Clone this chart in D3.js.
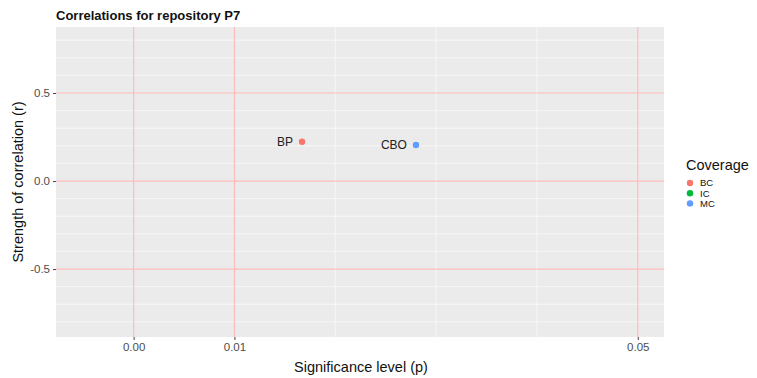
<!DOCTYPE html>
<meta charset="utf-8">
<style>
body { margin: 0; background: #fff; font-family: "Liberation Sans", Arial, sans-serif; }
.tick text { fill: #4d4d4d; font-size: 11.5px; }
.tick line { stroke: #444; }
.domain { display: none; }
</style>
<body>
<script src="https://cdn.jsdelivr.net/npm/d3@7"></script>
<script>
// data
var labels = ["BP", "CBO"];
var coverage = ["BC", "MC"];
var pValues = [0.0167, 0.028];
var rValues = [0.223, 0.2045];

var groups = ["BC", "IC", "MC"];
var groupColors = ["#F8766D", "#00BA38", "#619CFF"];

var xTicks = [0, 0.01, 0.05];
var xMinor = [0.02, 0.03, 0.04];
var yTicks = [-0.5, 0, 0.5];
var yMinor = [-0.8, -0.7, -0.6, -0.4, -0.3, -0.2, -0.1, 0.1, 0.2, 0.3, 0.4, 0.6, 0.7, 0.8];

var W = 757, H = 378;
var panel = {left: 56, right: 664, top: 27, bottom: 337};

var x = d3.scaleLinear().domain([-0.0077, 0.0526]).range([panel.left, panel.right]);
var y = d3.scaleLinear().domain([-0.886, 0.875]).range([panel.bottom, panel.top]);
var color = d3.scaleOrdinal().domain(groups).range(groupColors);

var svg = d3.select("body").append("svg")
    .attr("width", W)
    .attr("height", H);

svg.append("rect")
    .attr("x", panel.left).attr("y", panel.top)
    .attr("width", panel.right - panel.left)
    .attr("height", panel.bottom - panel.top)
    .attr("fill", "#ebebeb");

// white grid
svg.selectAll(".vgrid").data(xMinor).enter().append("line")
    .attr("x1", d => x(d)).attr("x2", d => x(d))
    .attr("y1", panel.top).attr("y2", panel.bottom)
    .attr("stroke", "#f7f7f7").attr("stroke-width", 1);
svg.selectAll(".hgrid").data(yMinor).enter().append("line")
    .attr("y1", d => y(d)).attr("y2", d => y(d))
    .attr("x1", panel.left).attr("x2", panel.right)
    .attr("stroke", "#f7f7f7").attr("stroke-width", 1);

// red reference lines
svg.selectAll(".vred").data(xTicks).enter().append("line")
    .attr("x1", d => x(d)).attr("x2", d => x(d))
    .attr("y1", panel.top).attr("y2", panel.bottom)
    .attr("stroke", "#ffbcbc").attr("stroke-width", 1.2);
svg.selectAll(".hred").data(yTicks).enter().append("line")
    .attr("y1", d => y(d)).attr("y2", d => y(d))
    .attr("x1", panel.left).attr("x2", panel.right)
    .attr("stroke", "#ffbcbc").attr("stroke-width", 1.2);

// axes
svg.append("g")
    .attr("transform", "translate(0," + panel.bottom + ")")
    .call(d3.axisBottom(x).tickValues(xTicks).tickFormat(d3.format(".2f")).tickSize(3).tickPadding(3));
svg.append("g")
    .attr("transform", "translate(" + panel.left + ",0)")
    .call(d3.axisLeft(y).tickValues(yTicks)
        .tickFormat(d => d3.format(".1f")(d).replace("\u2212", "-"))
        .tickSize(3).tickPadding(3));

// points and labels
var pts = pValues.map((p, i) => ({p: p, r: rValues[i], label: labels[i], cov: coverage[i]}));
svg.selectAll(".pt").data(pts).enter().append("circle")
    .attr("cx", d => x(d.p)).attr("cy", d => y(d.r))
    .attr("r", 3.2)
    .attr("fill", d => color(d.cov));
svg.selectAll(".lbl").data(pts).enter().append("text")
    .attr("x", d => x(d.p) - 9).attr("y", d => y(d.r))
    .attr("dy", "0.35em")
    .attr("text-anchor", "end")
    .attr("font-size", 12)
    .attr("fill", "#222")
    .text(d => d.label);

// titles
svg.append("text")
    .attr("x", panel.left).attr("y", 20)
    .attr("font-size", 13).attr("font-weight", "bold")
    .attr("fill", "#111")
    .text("Correlations for repository P7");
svg.append("text")
    .attr("x", (panel.left + panel.right) / 2 + 1).attr("y", 372)
    .attr("text-anchor", "middle").attr("font-size", 14.5)
    .attr("fill", "#111")
    .text("Significance level (p)");
svg.append("text")
    .attr("transform", "translate(23," + ((panel.top + panel.bottom) / 2) + ") rotate(-90)")
    .attr("text-anchor", "middle").attr("font-size", 14.5)
    .attr("fill", "#111")
    .text("Strength of correlation (r)");

// legend
var lg = svg.append("g").attr("transform", "translate(686,0)");
lg.append("text").attr("x", 0).attr("y", 170)
    .attr("font-size", 14.5).attr("fill", "#111").text("Coverage");
var items = lg.selectAll(".li").data(groups).enter().append("g")
    .attr("transform", (d, i) => "translate(0," + (183 + i * 10.2) + ")");
items.append("circle").attr("cx", 4).attr("cy", 0).attr("r", 3.2)
    .attr("fill", d => color(d));
items.append("text").attr("x", 14).attr("y", 0).attr("dy", "0.35em")
    .attr("font-size", 9.5).attr("fill", "#111").text(d => d);
</script>
